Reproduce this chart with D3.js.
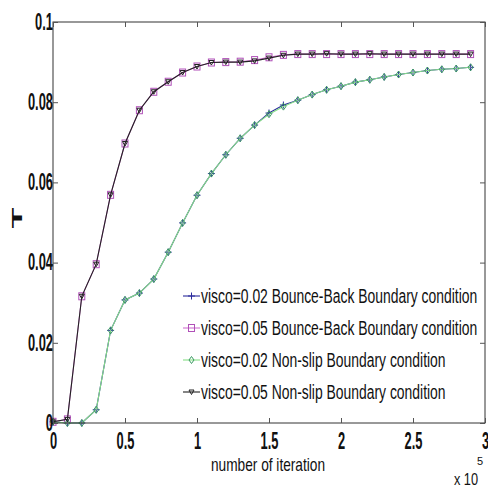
<!DOCTYPE html>
<html>
<head>
<meta charset="utf-8">
<script src="https://cdn.jsdelivr.net/npm/d3@7"></script>
<style>
  body { margin: 0; background: #fff; }
  svg { display: block; }
  text { font-family: "Liberation Sans", Arial, sans-serif; fill: #111; }
</style>
</head>
<body>
<svg width="488" height="488"></svg>
<script>
// iterations, in units of 1e5
const iterations = [0, 0.1, 0.2, 0.3, 0.4, 0.5, 0.6, 0.7, 0.8, 0.9,
  1.0, 1.1, 1.2, 1.3, 1.4, 1.5, 1.6, 1.7, 1.8, 1.9,
  2.0, 2.1, 2.2, 2.3, 2.4, 2.5, 2.6, 2.7, 2.8, 2.9];

const bounce002 = [0.0003, 0.0, 0.0, 0.0033, 0.0231, 0.0307, 0.0324, 0.0359, 0.0426, 0.0499,
  0.0568, 0.0622, 0.0669, 0.0710, 0.0743, 0.0773, 0.0793, 0.0805, 0.0819, 0.0831,
  0.0840, 0.0850, 0.0856, 0.0863, 0.0869, 0.0874, 0.0879, 0.0882, 0.0884, 0.0887];
const bounce005 = [0.0003, 0.0009, 0.0316, 0.0396, 0.0569, 0.0697, 0.0780, 0.0826, 0.0851, 0.0874,
  0.0889, 0.0899, 0.0900, 0.0901, 0.0905, 0.0912, 0.0918, 0.0920, 0.0920, 0.0920,
  0.0920, 0.0920, 0.0920, 0.0920, 0.0920, 0.0920, 0.0920, 0.0920, 0.0920, 0.0920];
const nonslip002 = [0.0003, 0.0, 0.0, 0.0033, 0.0231, 0.0307, 0.0324, 0.0359, 0.0426, 0.0499,
  0.0568, 0.0622, 0.0669, 0.0710, 0.0743, 0.0770, 0.0789, 0.0805, 0.0819, 0.0831,
  0.0840, 0.0850, 0.0856, 0.0863, 0.0869, 0.0874, 0.0879, 0.0882, 0.0884, 0.0887];
const nonslip005 = [0.0003, 0.0009, 0.0316, 0.0396, 0.0569, 0.0697, 0.0780, 0.0826, 0.0851, 0.0874,
  0.0889, 0.0899, 0.0900, 0.0900, 0.0903, 0.0910, 0.0917, 0.0920, 0.0920, 0.0921,
  0.0920, 0.0920, 0.0921, 0.0920, 0.0920, 0.0920, 0.0920, 0.0920, 0.0920, 0.0920];

const xTicks = [0, 0.5, 1, 1.5, 2, 2.5, 3];
const yTicks = [0, 0.02, 0.04, 0.06, 0.08, 0.1];

const series = [
  {label: "visco=0.02 Bounce-Back Boundary condition", values: bounce002, color: "#2b2b9c", mcolor: "#2b2b9c", marker: "plus"},
  {label: "visco=0.05 Bounce-Back Boundary condition", values: bounce005, color: "#d070d0", mcolor: "#b050b8", marker: "square"},
  {label: "visco=0.02 Non-slip Boundary condition", values: nonslip002, color: "#86df86", mcolor: "#3a9a62", marker: "diamond"},
  {label: "visco=0.05 Non-slip Boundary condition", values: nonslip005, color: "#222222", mcolor: "#222222", marker: "tri"}
];

const svg = d3.select("svg");
const margin = {left: 53, right: 3, top: 22, bottom: 65};
const width = 488, height = 488;

const x = d3.scaleLinear().domain([0, 3]).range([margin.left, width - margin.right]);
const y = d3.scaleLinear().domain([0, 0.1]).range([height - margin.bottom, margin.top]);

svg.append("rect").attr("width", width).attr("height", height).attr("fill", "#fff");

// squeeze text horizontally to mimic the narrow font of the original
function narrow(sel, k) {
  sel.each(function() {
    const w = this.getComputedTextLength();
    d3.select(this).attr("textLength", w * k).attr("lengthAdjust", "spacingAndGlyphs");
  });
}

// lines
const line = d3.line().x((d, i) => x(iterations[i])).y(d => y(d));

function drawMarker(g, type, color) {
  if (type === "plus") {
    g.append("path").attr("d", "M-3.5,0H3.5M0,-3.5V3.5");
  } else if (type === "square") {
    g.append("rect").attr("x", -3).attr("y", -3.5).attr("width", 6).attr("height", 7);
  } else if (type === "diamond") {
    g.append("path").attr("d", "M0,-3.5L2.5,0L0,3.5L-2.5,0Z");
  } else {
    g.append("path").attr("d", "M-2.5,-2L2.5,-2L0,2.5Z");
  }
  g.attr("fill", "none").attr("stroke", color).attr("stroke-width", 1);
}

series.forEach(s => {
  svg.append("path")
    .attr("d", line(s.values))
    .attr("fill", "none")
    .attr("stroke", s.color)
    .attr("stroke-width", 1.1);
  svg.append("g").selectAll("g")
    .data(s.values)
    .join("g")
      .attr("transform", (d, i) => `translate(${x(iterations[i])},${y(d)})`)
      .each(function() { drawMarker(d3.select(this), s.marker, s.mcolor); });
});

// frame
svg.append("rect")
  .attr("x", x(0)).attr("y", y(0.1))
  .attr("width", x(3) - x(0)).attr("height", y(0) - y(0.1))
  .attr("fill", "none").attr("stroke", "#333").attr("stroke-width", 1);

// axes with inward ticks
const axisFont = g => g.selectAll("text")
  .style("font-family", "'Liberation Sans', Arial, sans-serif")
  .style("font-size", "23px").style("font-weight", "bold").attr("fill", "#111")
  .call(narrow, 0.56);

const xAxis = svg.append("g")
  .attr("transform", `translate(0,${y(0)})`)
  .call(d3.axisBottom(x).tickValues(xTicks).tickSize(-5).tickPadding(10).tickFormat(d3.format("")));
xAxis.call(axisFont);
xAxis.select(".domain").remove();
xAxis.selectAll("line").attr("stroke", "#555");

svg.append("g")
  .attr("transform", `translate(0,${y(0.1)})`)
  .call(d3.axisTop(x).tickValues(xTicks).tickSize(-5).tickFormat(""))
  .call(g => g.select(".domain").remove())
  .call(g => g.selectAll("line").attr("stroke", "#555"));

const yAxis = svg.append("g")
  .attr("transform", `translate(${x(0)},0)`)
  .call(d3.axisLeft(y).tickValues(yTicks).tickSize(-5).tickPadding(0).tickFormat(d3.format("")));
yAxis.call(axisFont);
yAxis.select(".domain").remove();
yAxis.selectAll("line").attr("stroke", "#555");

svg.append("g")
  .attr("transform", `translate(${x(3)},0)`)
  .call(d3.axisRight(y).tickValues(yTicks).tickSize(-5).tickFormat(""))
  .call(g => g.select(".domain").remove())
  .call(g => g.selectAll("line").attr("stroke", "#555"));

// axis labels
svg.append("text")
  .attr("x", 268).attr("y", 471)
  .attr("text-anchor", "middle")
  .attr("font-size", 19)
  .text("number of iteration")
  .call(narrow, 0.72);

svg.append("text")
  .attr("transform", "translate(22,218) rotate(-90)")
  .attr("text-anchor", "middle")
  .attr("font-size", 15)
  .attr("font-weight", "bold")
  .attr("textLength", 21)
  .attr("lengthAdjust", "spacingAndGlyphs")
  .text("T");

svg.append("text")
  .attr("x", 466).attr("y", 485)
  .attr("text-anchor", "middle")
  .attr("font-size", 17)
  .text("x 10")
  .call(narrow, 0.75);
svg.append("text")
  .attr("x", 480).attr("y", 465)
  .attr("text-anchor", "middle")
  .attr("font-size", 11)
  .text("5");

// legend
const legend = svg.append("g");
series.forEach((s, i) => {
  const ly = 296 + i * 32;
  legend.append("line")
    .attr("x1", 183).attr("x2", 200).attr("y1", ly).attr("y2", ly)
    .attr("stroke", s.color).attr("stroke-width", 1.1);
  const m = legend.append("g").attr("transform", `translate(191.5,${ly})`);
  drawMarker(m, s.marker, s.mcolor);
  legend.append("text")
    .attr("x", 201).attr("y", ly + 7)
    .attr("font-size", 20)
    .text(s.label)
    .call(narrow, 0.695);
});
</script>
</body>
</html>
